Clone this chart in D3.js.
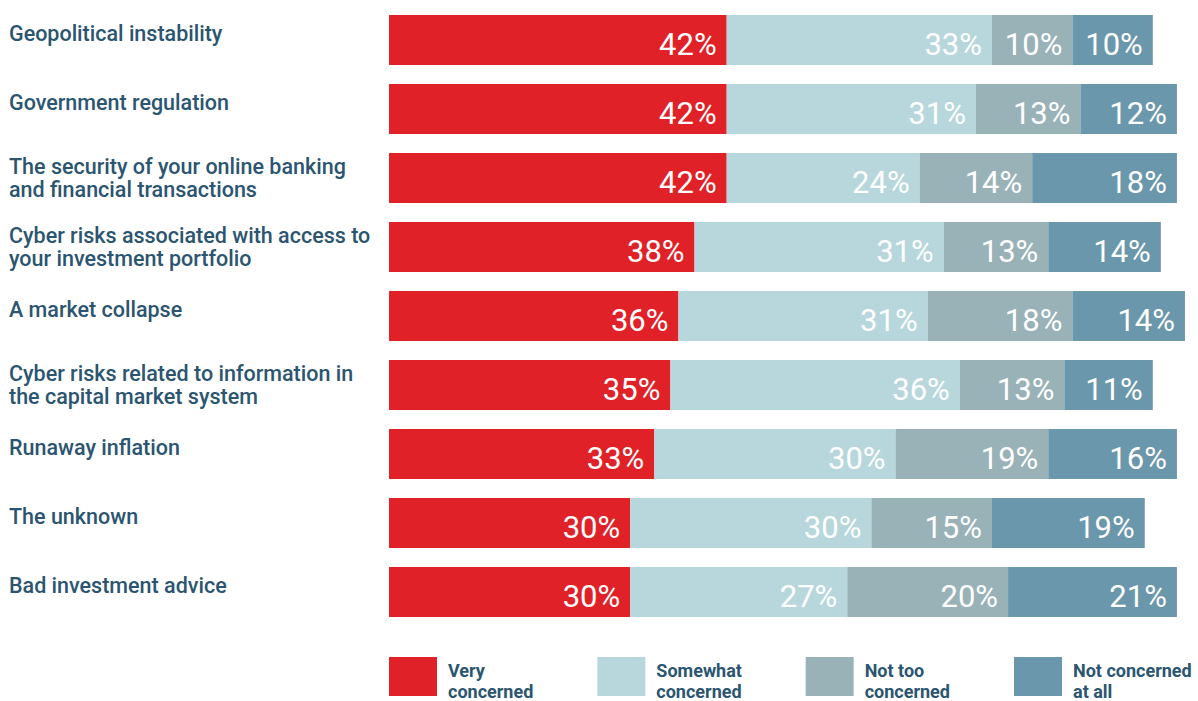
<!DOCTYPE html>
<html>
<head>
<meta charset="utf-8">
<script src="https://cdn.jsdelivr.net/npm/d3@7"></script>
<style>
  html, body { margin: 0; padding: 0; background: #ffffff; }
  svg { display: block; }
  text { font-family: Roboto, "Noto Sans", sans-serif; }
</style>
</head>
<body>
<svg id="chart" width="1198" height="701"></svg>
<script>
// Survey concerns, share of respondents (%)
const categories = [
  "Geopolitical instability",
  "Government regulation",
  "The security of your online banking\nand financial transactions",
  "Cyber risks associated with access to\nyour investment portfolio",
  "A market collapse",
  "Cyber risks related to information in\nthe capital market system",
  "Runaway inflation",
  "The unknown",
  "Bad investment advice"
];
const seriesNames = ["Very concerned", "Somewhat concerned", "Not too concerned", "Not concerned at all"];
const legendLines = [["Very", "concerned"], ["Somewhat", "concerned"], ["Not too", "concerned"], ["Not concerned", "at all"]];
const veryConcerned      = [42, 42, 42, 38, 36, 35, 33, 30, 30];
const somewhatConcerned  = [33, 31, 24, 31, 31, 36, 30, 30, 27];
const notTooConcerned    = [10, 13, 14, 13, 18, 13, 19, 15, 20];
const notConcernedAtAll  = [10, 12, 18, 14, 14, 11, 16, 19, 21];

const colors = ["#e02228", "#b8d7dc", "#99b2b7", "#6a97ab"];
const textColor = "#2b5570";

const rows = categories.map((c, i) => ({
  category: c,
  [seriesNames[0]]: veryConcerned[i],
  [seriesNames[1]]: somewhatConcerned[i],
  [seriesNames[2]]: notTooConcerned[i],
  [seriesNames[3]]: notConcernedAtAll[i]
}));

const svg = d3.select("#chart");

const x = d3.scaleLinear().domain([0, 100]).range([389, 1193]);
const y = d3.scaleBand().domain(categories).range([15, 617]).paddingInner(19 / 69).paddingOuter(0);
const color = d3.scaleOrdinal().domain(seriesNames).range(colors);

const stacked = d3.stack().keys(seriesNames)(rows);

// Stacked bar segments
const layers = svg.append("g").selectAll("g")
  .data(stacked)
  .join("g")
  .attr("fill", d => color(d.key));

layers.selectAll("rect")
  .data(d => d.map(s => ({ key: d.key, s })))
  .join("rect")
  .attr("x", d => x(d.s[0]))
  .attr("y", d => y(d.s.data.category))
  .attr("width", d => x(d.s[1]) - x(d.s[0]))
  .attr("height", y.bandwidth());

// Value labels, right-aligned inside each segment
layers.selectAll("text")
  .data(d => d.map(s => ({ key: d.key, s })))
  .join("text")
  .attr("x", d => x(d.s[1]) - 10)
  .attr("y", d => y(d.s.data.category) + y.bandwidth() / 2 + 15)
  .attr("text-anchor", "end")
  .attr("fill", "#ffffff")
  .attr("font-size", 31)
  .attr("font-weight", 400)
  .text(d => `${d.s[1] - d.s[0]}%`);

// Category labels on the left
const cat = svg.append("g").selectAll("text")
  .data(categories)
  .join("text")
  .attr("x", 9)
  .attr("y", d => y(d) + (d.includes("\n") ? 21 : 26))
  .attr("fill", textColor)
  .attr("font-size", 21.5)
  .attr("font-weight", 500);

cat.selectAll("tspan")
  .data(d => d.split("\n"))
  .join("tspan")
  .attr("x", 9)
  .attr("dy", (d, i) => i === 0 ? 0 : 23)
  .text(d => d);

// Legend
const legendX = d3.scalePoint().domain(seriesNames).range([389, 1014]);
const legend = svg.append("g").selectAll("g")
  .data(seriesNames)
  .join("g")
  .attr("transform", d => `translate(${legendX(d)},657)`);

legend.append("rect")
  .attr("width", 48)
  .attr("height", 39)
  .attr("fill", d => color(d));

legend.append("text")
  .attr("fill", textColor)
  .attr("font-size", 18)
  .attr("font-weight", 700)
  .selectAll("tspan")
  .data((d, i) => legendLines[i])
  .join("tspan")
  .attr("x", 59)
  .attr("y", (d, i) => 20 + i * 21)
  .text(d => d);
</script>
</body>
</html>
